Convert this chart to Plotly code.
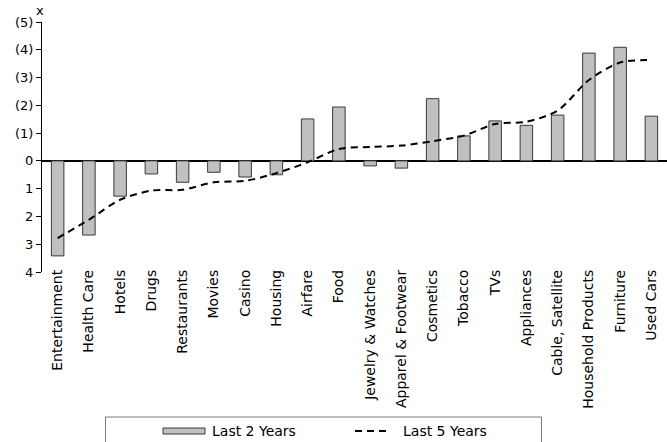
import plotly.graph_objects as go

categories = [
    "Entertainment", "Health Care", "Hotels", "Drugs", "Restaurants", "Movies",
    "Casino", "Housing", "Airfare", "Food", "Jewelry & Watches",
    "Apparel & Footwear", "Cosmetics", "Tobacco", "TVs", "Appliances",
    "Cable, Satellite", "Household Products", "Furniture", "Used Cars",
]
# Elasticity readings; negative = more elastic (shown in parentheses)
last_2_years = [3.42, 2.67, 1.27, 0.47, 0.77, 0.41, 0.58, 0.50, -1.51, -1.94,
                0.18, 0.26, -2.24, -0.90, -1.44, -1.28, -1.65, -3.88, -4.09, -1.61]
last_5_years = [2.78, 2.12, 1.40, 1.07, 1.04, 0.77, 0.72, 0.44, 0.05, -0.43,
                -0.50, -0.55, -0.71, -0.91, -1.33, -1.41, -1.81, -2.91, -3.54, -3.63]
y_tick_vals = [-5, -4, -3, -2, -1, 0, 1, 2, 3, 4]
y_tick_text = ["(5)", "(4)", "(3)", "(2)", "(1)", "0", "1", "2", "3", "4"]

FONT = "DejaVu Sans"
BAR_FILL = "#c0c0c0"
BAR_EDGE = "#3a3a3a"

fig = go.Figure()
fig.add_trace(go.Bar(
    x=categories, y=last_2_years, name="Last 2 Years", width=0.4,
    marker=dict(color=BAR_FILL, line=dict(color=BAR_EDGE, width=1)),
))
fig.add_trace(go.Scatter(
    x=categories, y=last_5_years, name="Last 5 Years", mode="lines",
    line=dict(color="black", width=2, dash="7px,5px", shape="spline", smoothing=0.8),
))

fig.update_layout(
    width=667, height=442,
    margin=dict(l=42, r=0, t=22, b=170),
    paper_bgcolor="white", plot_bgcolor="white",
    showlegend=False,
    font=dict(family=FONT, size=13, color="black"),
    bargap=0.6,
)
fig.update_xaxes(
    type="category", range=[-0.5, 19.5], tickangle=-90,
    showgrid=False, showline=False, ticks="", zeroline=False,
    ticklabelstandoff=-6,
    tickfont=dict(family=FONT, size=14, color="black"),
)
fig.update_yaxes(
    range=[4, -5], tickvals=y_tick_vals, ticktext=y_tick_text,
    showgrid=False, showline=True, linecolor="black", linewidth=1,
    ticks="outside", ticklen=5, tickcolor="black",
    zeroline=True, zerolinecolor="black", zerolinewidth=1.5,
    tickfont=dict(family=FONT, size=13, color="black"),
)

# Axis title and region notes
fig.add_annotation(x=0, y=1, xref="paper", yref="paper", text="x", showarrow=False,
                   xanchor="center", yanchor="bottom", yshift=2, xshift=-2,
                   font=dict(family=FONT, size=13))
fig.add_annotation(x=-4.0, y=-3.9, xref="x", yref="y", text="More Elastic", showarrow=False,
                   xanchor="left", yanchor="middle", font=dict(family=FONT, size=12))
fig.add_annotation(x=-3.8, y=3.55, xref="x", yref="y", text="More Inelastic", showarrow=False,
                   xanchor="left", yanchor="middle", font=dict(family=FONT, size=12.5))

# Legend box below the chart
def px_x(px):
    return (px - 42) / 625

def px_y(py):
    return (272 - py) / 250

fig.add_shape(type="rect", xref="paper", yref="paper",
              x0=px_x(105.5), x1=px_x(541.5), y0=px_y(417), y1=px_y(450),
              line=dict(color="#7a7a7a", width=1), fillcolor="white", layer="below")
fig.add_shape(type="rect", xref="paper", yref="paper",
              x0=px_x(163), x1=px_x(205), y0=px_y(428), y1=px_y(434),
              line=dict(color=BAR_EDGE, width=1), fillcolor=BAR_FILL)
fig.add_shape(type="line", xref="paper", yref="paper",
              x0=px_x(355), x1=px_x(391), y0=px_y(431), y1=px_y(431),
              line=dict(color="black", width=2, dash="7px,5px"))
fig.add_annotation(x=px_x(210), y=px_y(431), xref="paper", yref="paper",
                   text="Last 2 Years", showarrow=False, xanchor="left", yanchor="middle",
                   font=dict(family=FONT, size=14))
fig.add_annotation(x=px_x(401), y=px_y(431), xref="paper", yref="paper",
                   text="Last 5 Years", showarrow=False, xanchor="left", yanchor="middle",
                   font=dict(family=FONT, size=14))

fig.write_html("out.html")
